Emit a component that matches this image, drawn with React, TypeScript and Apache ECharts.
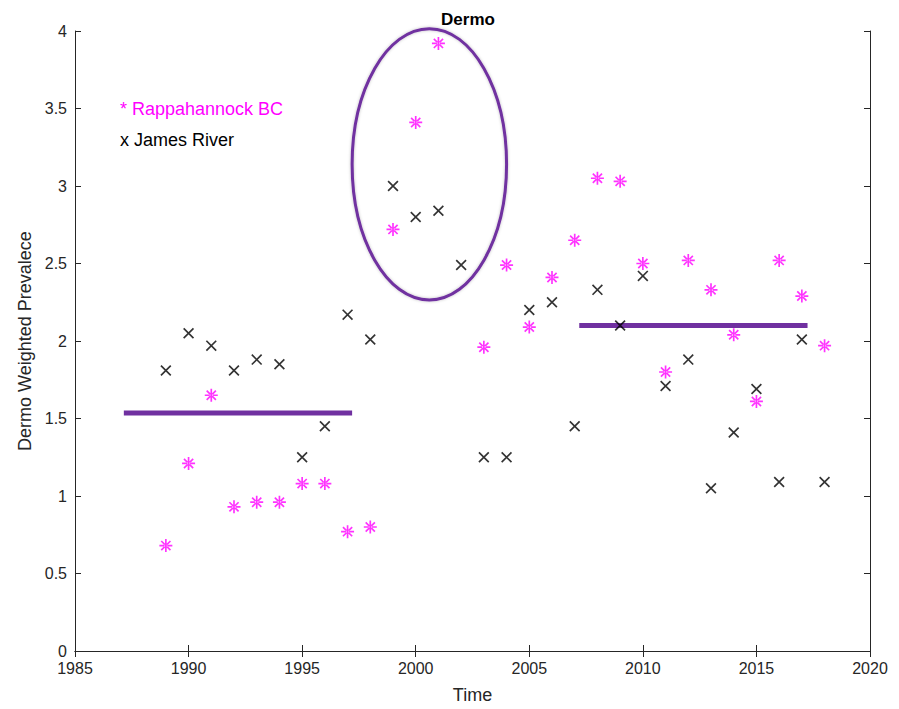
import React, { useEffect, useRef } from "react";
import * as echarts from "echarts";

const years = [1989,1990,1991,1992,1993,1994,1995,1996,1997,1998,1999,2000,2001,2002,2003,2004,2005,2006,2007,2008,2009,2010,2011,2012,2013,2014,2015,2016,2017,2018];
const rappahannock: (number | null)[] = [0.68,1.21,1.65,0.93,0.96,0.96,1.08,1.08,0.77,0.80,2.72,3.41,3.92,null,1.96,2.49,2.09,2.41,2.65,3.05,3.03,2.50,1.80,2.52,2.33,2.04,1.61,2.52,2.29,1.97];
const james: (number | null)[] = [1.81,2.05,1.97,1.81,1.88,1.85,1.25,1.45,2.17,2.01,3.00,2.80,2.84,2.49,1.25,1.25,2.20,2.25,1.45,2.33,2.10,2.42,1.71,1.88,1.05,1.41,1.69,1.09,2.01,1.09];
const meanEarly = [[1987.15, 1.535], [1997.2, 1.535]];
const meanLate = [[2007.2, 2.1], [2017.25, 2.1]];
const ellipse = [[2000.6, 3.14, 3.4, 0.875]]; // cx, cy, rx (years), ry (value)
const xTicks = { min: 1985, max: 2020, interval: 5 };
const yTicks = { min: 0, max: 4, interval: 0.5 };

const PURPLE = "#7030A0";
const MAGENTA = "#FF00FF";
const FONT = "Liberation Sans, Arial, Helvetica, sans-serif";

const w = 1.3;
const d = 0.92;
const asteriskPath =
  `path://M${-w},-10 L${w},-10 L${w},10 L${-w},10 Z ` +
  `M-10,${-w} L-10,${w} L10,${w} L10,${-w} Z ` +
  `M${-7.07 - d},${-7.07 + d} L${-7.07 + d},${-7.07 - d} L${7.07 + d},${7.07 - d} L${7.07 - d},${7.07 + d} Z ` +
  `M${7.07 - d},${-7.07 - d} L${7.07 + d},${-7.07 + d} L${-7.07 + d},${7.07 + d} L${-7.07 - d},${7.07 - d} Z`;
const c = 0.85;
const crossPath =
  `path://M${-7.07 - c},${-7.07 + c} L${-7.07 + c},${-7.07 - c} L${7.07 + c},${7.07 - c} L${7.07 - c},${7.07 + c} Z ` +
  `M${7.07 - c},${-7.07 - c} L${7.07 + c},${-7.07 + c} L${-7.07 + c},${7.07 + c} L${-7.07 - c},${7.07 - c} Z`;

export default function App() {
  const ref = useRef<HTMLDivElement>(null);
  useEffect(() => {
    if (!ref.current) return;
    const chart = echarts.init(ref.current, null, { renderer: "svg" });
    const axisLine = { show: true, lineStyle: { color: "#262626", width: 1 } };
    const tickStyle = { show: true, inside: true, length: 6, lineStyle: { color: "#262626" } };
    const labelStyle = { color: "#262626", fontSize: 16, fontFamily: FONT };
    chart.setOption({
      animation: false,
      backgroundColor: "#ffffff",
      title: {
        text: "Dermo",
        left: 463,
        textAlign: "center",
        top: 6,
        textStyle: { fontSize: 17, fontWeight: "bold", color: "#000", fontFamily: FONT },
      },
      grid: { left: 75, right: 29, top: 31, bottom: 52 },
      xAxis: [
        {
          type: "value",
          ...xTicks,
          position: "bottom",
          name: "Time",
          nameLocation: "middle",
          nameGap: 35,
          nameTextStyle: { fontSize: 18, color: "#262626", fontFamily: FONT },
          axisLine,
          axisTick: tickStyle,
          axisLabel: { ...labelStyle, margin: 9, formatter: (v: number) => String(v) },
          splitLine: { show: false },
        },
        {
          type: "value",
          ...xTicks,
          position: "top",
          axisLine,
          axisTick: tickStyle,
          axisLabel: { show: false },
          splitLine: { show: false },
        },
      ],
      yAxis: [
        {
          type: "value",
          ...yTicks,
          position: "left",
          name: "Dermo Weighted Prevalece",
          nameLocation: "middle",
          nameGap: 40,
          nameTextStyle: { fontSize: 18, color: "#262626", fontFamily: FONT },
          axisLine,
          axisTick: tickStyle,
          axisLabel: { ...labelStyle, margin: 8 },
          splitLine: { show: false },
        },
        {
          type: "value",
          ...yTicks,
          position: "right",
          axisLine,
          axisTick: tickStyle,
          axisLabel: { show: false },
          splitLine: { show: false },
        },
      ],
      graphic: [
        {
          type: "text",
          left: 120,
          top: 100,
          style: { text: "* Rappahannock BC", fill: MAGENTA, fontSize: 18, fontFamily: FONT },
        },
        {
          type: "text",
          left: 120,
          top: 131,
          style: { text: "x James River", fill: "#000", fontSize: 18, fontFamily: FONT },
        },
      ],
      series: [
        {
          type: "line",
          data: meanEarly,
          symbol: "none",
          lineStyle: { color: PURPLE, width: 5 },
          z: 2,
        },
        {
          type: "line",
          data: meanLate,
          symbol: "none",
          lineStyle: { color: PURPLE, width: 5 },
          z: 2,
        },
        {
          type: "custom",
          data: ellipse,
          renderItem: (params: any, api: any) => {
            const p = api.coord([api.value(0), api.value(1)]);
            const s = api.size([api.value(2), api.value(3)]);
            return {
              type: "ellipse",
              shape: { cx: p[0], cy: p[1], rx: s[0], ry: s[1] },
              style: { fill: "none", stroke: PURPLE, lineWidth: 3, shadowColor: "rgba(0,0,0,0.25)", shadowBlur: 3 },
            };
          },
          z: 2,
        },
        {
          type: "scatter",
          data: years.map((y, i) => [y, rappahannock[i]]).filter((q) => q[1] !== null),
          symbol: asteriskPath,
          symbolSize: 13,
          itemStyle: { color: MAGENTA },
          z: 3,
        },
        {
          type: "scatter",
          data: years.map((y, i) => [y, james[i]]).filter((q) => q[1] !== null),
          symbol: crossPath,
          symbolSize: 11,
          itemStyle: { color: "#000" },
          z: 3,
        },
      ],
    });
    return () => chart.dispose();
  }, []);
  return <div ref={ref} style={{ width: 899, height: 709, position: "absolute", left: 0, top: 0 }} />;
}
